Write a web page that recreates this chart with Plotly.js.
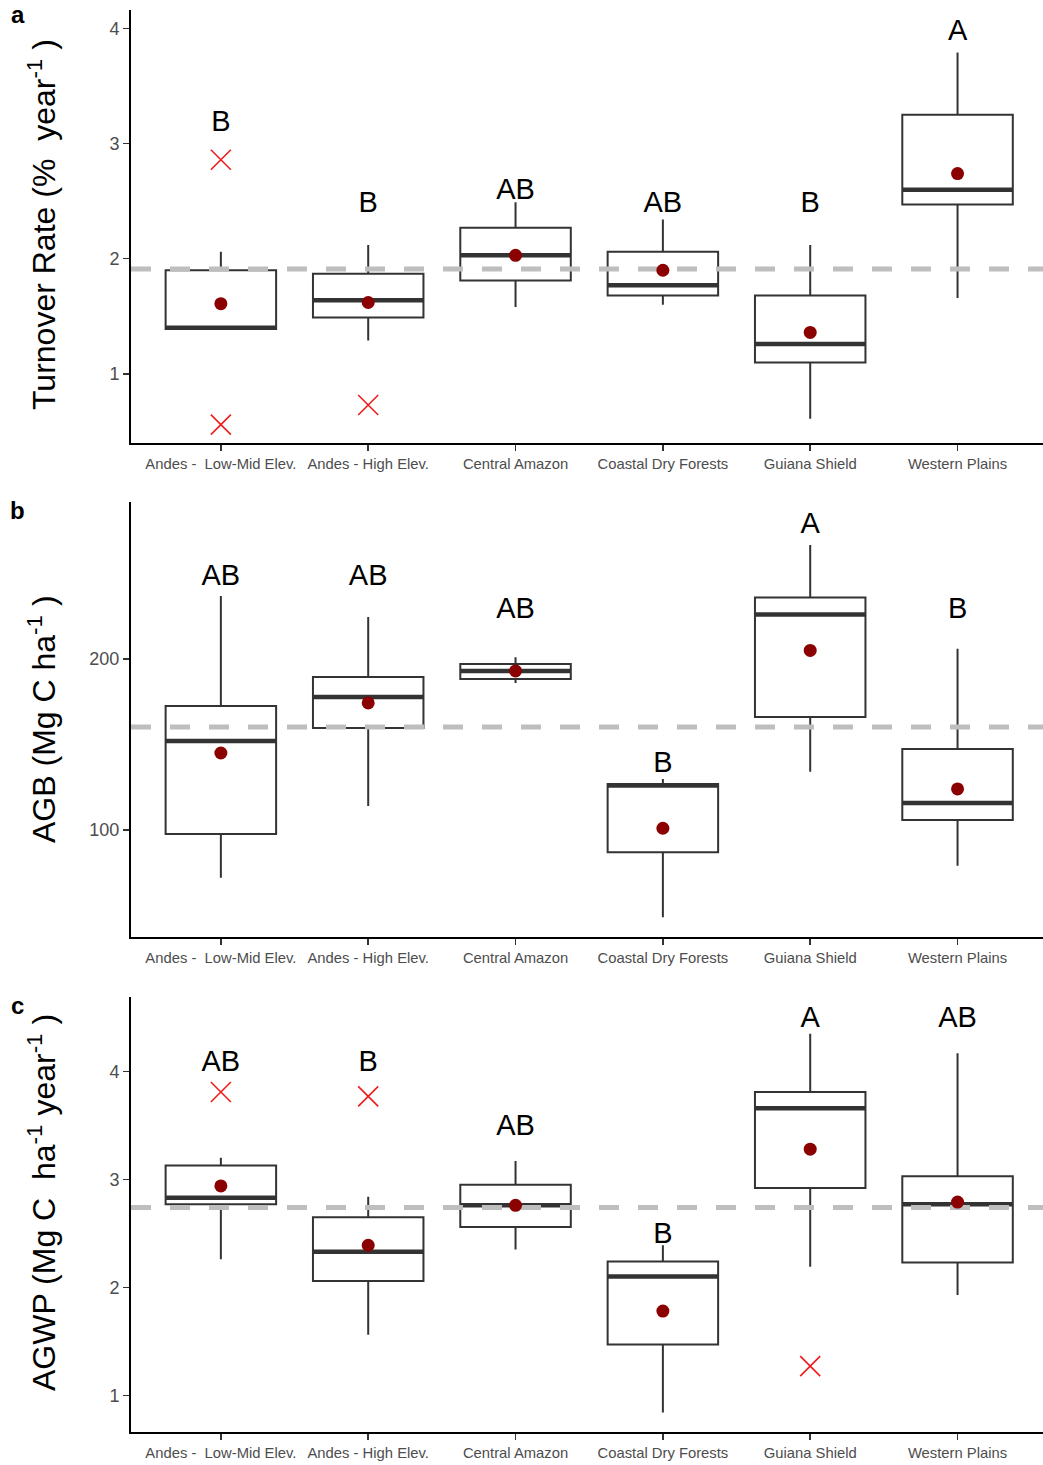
<!DOCTYPE html>
<html><head><meta charset="utf-8">
<script src="https://cdn.plot.ly/plotly-3.0.1.min.js"></script>
<style>body{margin:0;background:#fff}</style>
</head><body><div id="chart" style="width:1043px;height:1465px"></div>
<script>
const categories = ["Andes -\u00a0 Low-Mid Elev.", "Andes - High Elev.", "Central Amazon", "Coastal Dry Forests", "Guiana Shield", "Western Plains"];

// Panel a: Turnover rate
const turnLow    = [1.39, 1.29, 1.58, 1.60, 0.61, 1.66];
const turnQ1     = [1.39, 1.49, 1.81, 1.68, 1.10, 2.47];
const turnMedian = [1.40, 1.64, 2.03, 1.77, 1.26, 2.60];
const turnQ3     = [1.90, 1.87, 2.27, 2.06, 1.68, 3.25];
const turnHigh   = [2.06, 2.12, 2.49, 2.34, 2.12, 3.79];
const turnMean   = [1.61, 1.62, 2.03, 1.90, 1.36, 2.74];
const turnOutX   = [0, 0, 1];
const turnOutY   = [2.86, 0.56, 0.73];
const turnLetters = ["B", "B", "AB", "AB", "B", "A"];
const turnLetterY = [3.175, 2.465, 2.58, 2.465, 2.465, 3.965];
const turnOverall = 1.91;

// Panel b: AGB
const agbLow    = [72, 114, 186, 49, 134, 79];
const agbQ1     = [97.7, 159.6, 188.3, 87, 166, 105.8];
const agbMedian = [152, 177.8, 193, 126, 226, 115.8];
const agbQ3     = [172.5, 189.5, 197, 126.9, 236, 147.4];
const agbHigh   = [236.8, 224.6, 201, 129.8, 266.7, 206];
const agbMean   = [145, 174.3, 193, 101, 205, 124];
const agbLetters = ["AB", "AB", "AB", "B", "A", "B"];
const agbLetterY = [247.3, 247.3, 228, 138, 277.8, 228];
const agbOverall = 160.2;

// Panel c: AGWP
const agwpLow    = [2.26, 1.56, 2.35, 0.84, 2.19, 1.93];
const agwpQ1     = [2.77, 2.06, 2.56, 1.47, 2.92, 2.23];
const agwpMedian = [2.83, 2.33, 2.76, 2.10, 3.66, 2.77];
const agwpQ3     = [3.13, 2.65, 2.95, 2.24, 3.81, 3.03];
const agwpHigh   = [3.20, 2.84, 3.17, 2.39, 4.35, 4.17];
const agwpMean   = [2.94, 2.39, 2.76, 1.78, 3.28, 2.79];
const agwpOutX   = [0, 1, 4];
const agwpOutY   = [3.81, 3.77, 1.27];
const agwpLetters = ["AB", "B", "AB", "B", "A", "AB"];
const agwpLetterY = [4.07, 4.07, 3.48, 2.48, 4.48, 4.48];
const agwpOverall = 2.74;

const FONT = "Liberation Sans, Arial, sans-serif";
const xRange = [-0.61, 5.58];
const boxW = 0.75;
const idx = categories.map((c, i) => i);

function panel(ax, low, q1, med, q3, high, mean, outX, outY, letters, letterY, overall) {
  const xa = ax === '' ? 'x' : 'x' + ax;
  const ya = ax === '' ? 'y' : 'y' + ax;
  const tr = [];
  tr.push({type: 'box', x: idx, q1: q1, median: med, q3: q3, lowerfence: low, upperfence: high,
    width: boxW, fillcolor: 'white', line: {color: '#333333', width: 2}, whiskerwidth: 0,
    boxpoints: false, hoverinfo: 'skip', xaxis: xa, yaxis: ya, showlegend: false});
  const mx = [], my = [];
  idx.forEach((i) => { mx.push(i - boxW / 2, i + boxW / 2, null); my.push(med[i], med[i], null); });
  tr.push({type: 'scatter', mode: 'lines', x: mx, y: my, line: {color: '#333333', width: 4.5},
    xaxis: xa, yaxis: ya, showlegend: false, hoverinfo: 'skip'});
  tr.push({type: 'scatter', mode: 'lines', x: xRange, y: [overall, overall],
    line: {color: '#BEBEBE', width: 5, dash: '20px,19px'}, xaxis: xa, yaxis: ya, showlegend: false, hoverinfo: 'skip'});
  if (outX.length) {
    tr.push({type: 'scatter', mode: 'markers', x: outX, y: outY,
      marker: {symbol: 'x-thin', size: 20, line: {width: 1.6, color: '#EE1C1C'}, color: '#EE1C1C'},
      xaxis: xa, yaxis: ya, showlegend: false});
  }
  tr.push({type: 'scatter', mode: 'markers', x: idx, y: mean,
    marker: {size: 13, color: '#8B0000'}, xaxis: xa, yaxis: ya, showlegend: false});
  tr.push({type: 'scatter', mode: 'text', x: idx, y: letterY, text: letters,
    textfont: {size: 29, color: '#000000', family: FONT}, textposition: 'middle center',
    xaxis: xa, yaxis: ya, showlegend: false, hoverinfo: 'skip'});
  return tr;
}

const data = [].concat(
  panel('', turnLow, turnQ1, turnMedian, turnQ3, turnHigh, turnMean, turnOutX, turnOutY, turnLetters, turnLetterY, turnOverall),
  panel('2', agbLow, agbQ1, agbMedian, agbQ3, agbHigh, agbMean, [], [], agbLetters, agbLetterY, agbOverall),
  panel('3', agwpLow, agwpQ1, agwpMedian, agwpQ3, agwpHigh, agwpMean, agwpOutX, agwpOutY, agwpLetters, agwpLetterY, agwpOverall)
);

function xaxis(anchor) {
  return {anchor: anchor, domain: [0, 1], range: xRange, tickmode: 'array', tickvals: idx, ticktext: categories,
    showgrid: false, zeroline: false, showline: true, linecolor: '#000000', linewidth: 2,
    ticks: 'outside', ticklen: 6, tickwidth: 1.5, tickcolor: '#333333',
    tickfont: {size: 14.8, color: '#4D4D4D', family: FONT}};
}
function yaxis(anchor, domain, range, tickvals) {
  return {anchor: anchor, domain: domain, range: range, tickmode: 'array', tickvals: tickvals,
    showgrid: false, zeroline: false, showline: true, linecolor: '#000000', linewidth: 2,
    ticks: 'outside', ticklen: 6, tickwidth: 1.5, tickcolor: '#333333',
    tickfont: {size: 18, color: '#4D4D4D', family: FONT}};
}

const titleX = -0.0976;
const layout = {
  width: 1043, height: 1465,
  margin: {l: 131, r: 0, t: 10, b: 33},
  paper_bgcolor: 'white', plot_bgcolor: 'white',
  font: {family: FONT},
  showlegend: false,
  xaxis: xaxis('y'), yaxis: yaxis('x', [0.6955, 1], [0.40, 4.16], [1, 2, 3, 4]),
  xaxis2: xaxis('y2'), yaxis2: yaxis('x2', [0.3481, 0.654], [37.4, 291.8], [100, 200]),
  xaxis3: xaxis('y3'), yaxis3: yaxis('x3', [0, 0.3059], [0.66, 4.69], [1, 2, 3, 4]),
  annotations: [
    {text: '<b>a</b>', xref: 'paper', yref: 'paper', x: -0.124, y: 0.9965, xanchor: 'center', yanchor: 'middle', showarrow: false, font: {size: 24, color: '#000'}},
    {text: '<b>b</b>', xref: 'paper', yref: 'paper', x: -0.124, y: 1 - (510 - 10) / 1422, xanchor: 'center', yanchor: 'middle', showarrow: false, font: {size: 24, color: '#000'}},
    {text: '<b>c</b>', xref: 'paper', yref: 'paper', x: -0.124, y: 1 - (1005 - 10) / 1422, xanchor: 'center', yanchor: 'middle', showarrow: false, font: {size: 24, color: '#000'}},
    {text: 'Turnover Rate (%\u00a0 year<sup>-1</sup>\u00a0)', xref: 'paper', yref: 'paper', x: titleX, y: 1 - (224 - 10) / 1422, xanchor: 'center', yanchor: 'middle', textangle: -90, showarrow: false, font: {size: 32, color: '#000'}},
    {text: 'AGB (Mg C ha<sup>-1</sup>\u00a0)', xref: 'paper', yref: 'paper', x: titleX, y: 1 - (719 - 10) / 1422, xanchor: 'center', yanchor: 'middle', textangle: -90, showarrow: false, font: {size: 32, color: '#000'}},
    {text: 'AGWP (Mg C\u00a0 ha<sup>-1</sup> year<sup>-1</sup>\u00a0)', xref: 'paper', yref: 'paper', x: titleX, y: 1 - (1202 - 10) / 1422, xanchor: 'center', yanchor: 'middle', textangle: -90, showarrow: false, font: {size: 32, color: '#000'}}
  ]
};

Plotly.newPlot('chart', data, layout, {staticPlot: true});
</script>
</body></html>
